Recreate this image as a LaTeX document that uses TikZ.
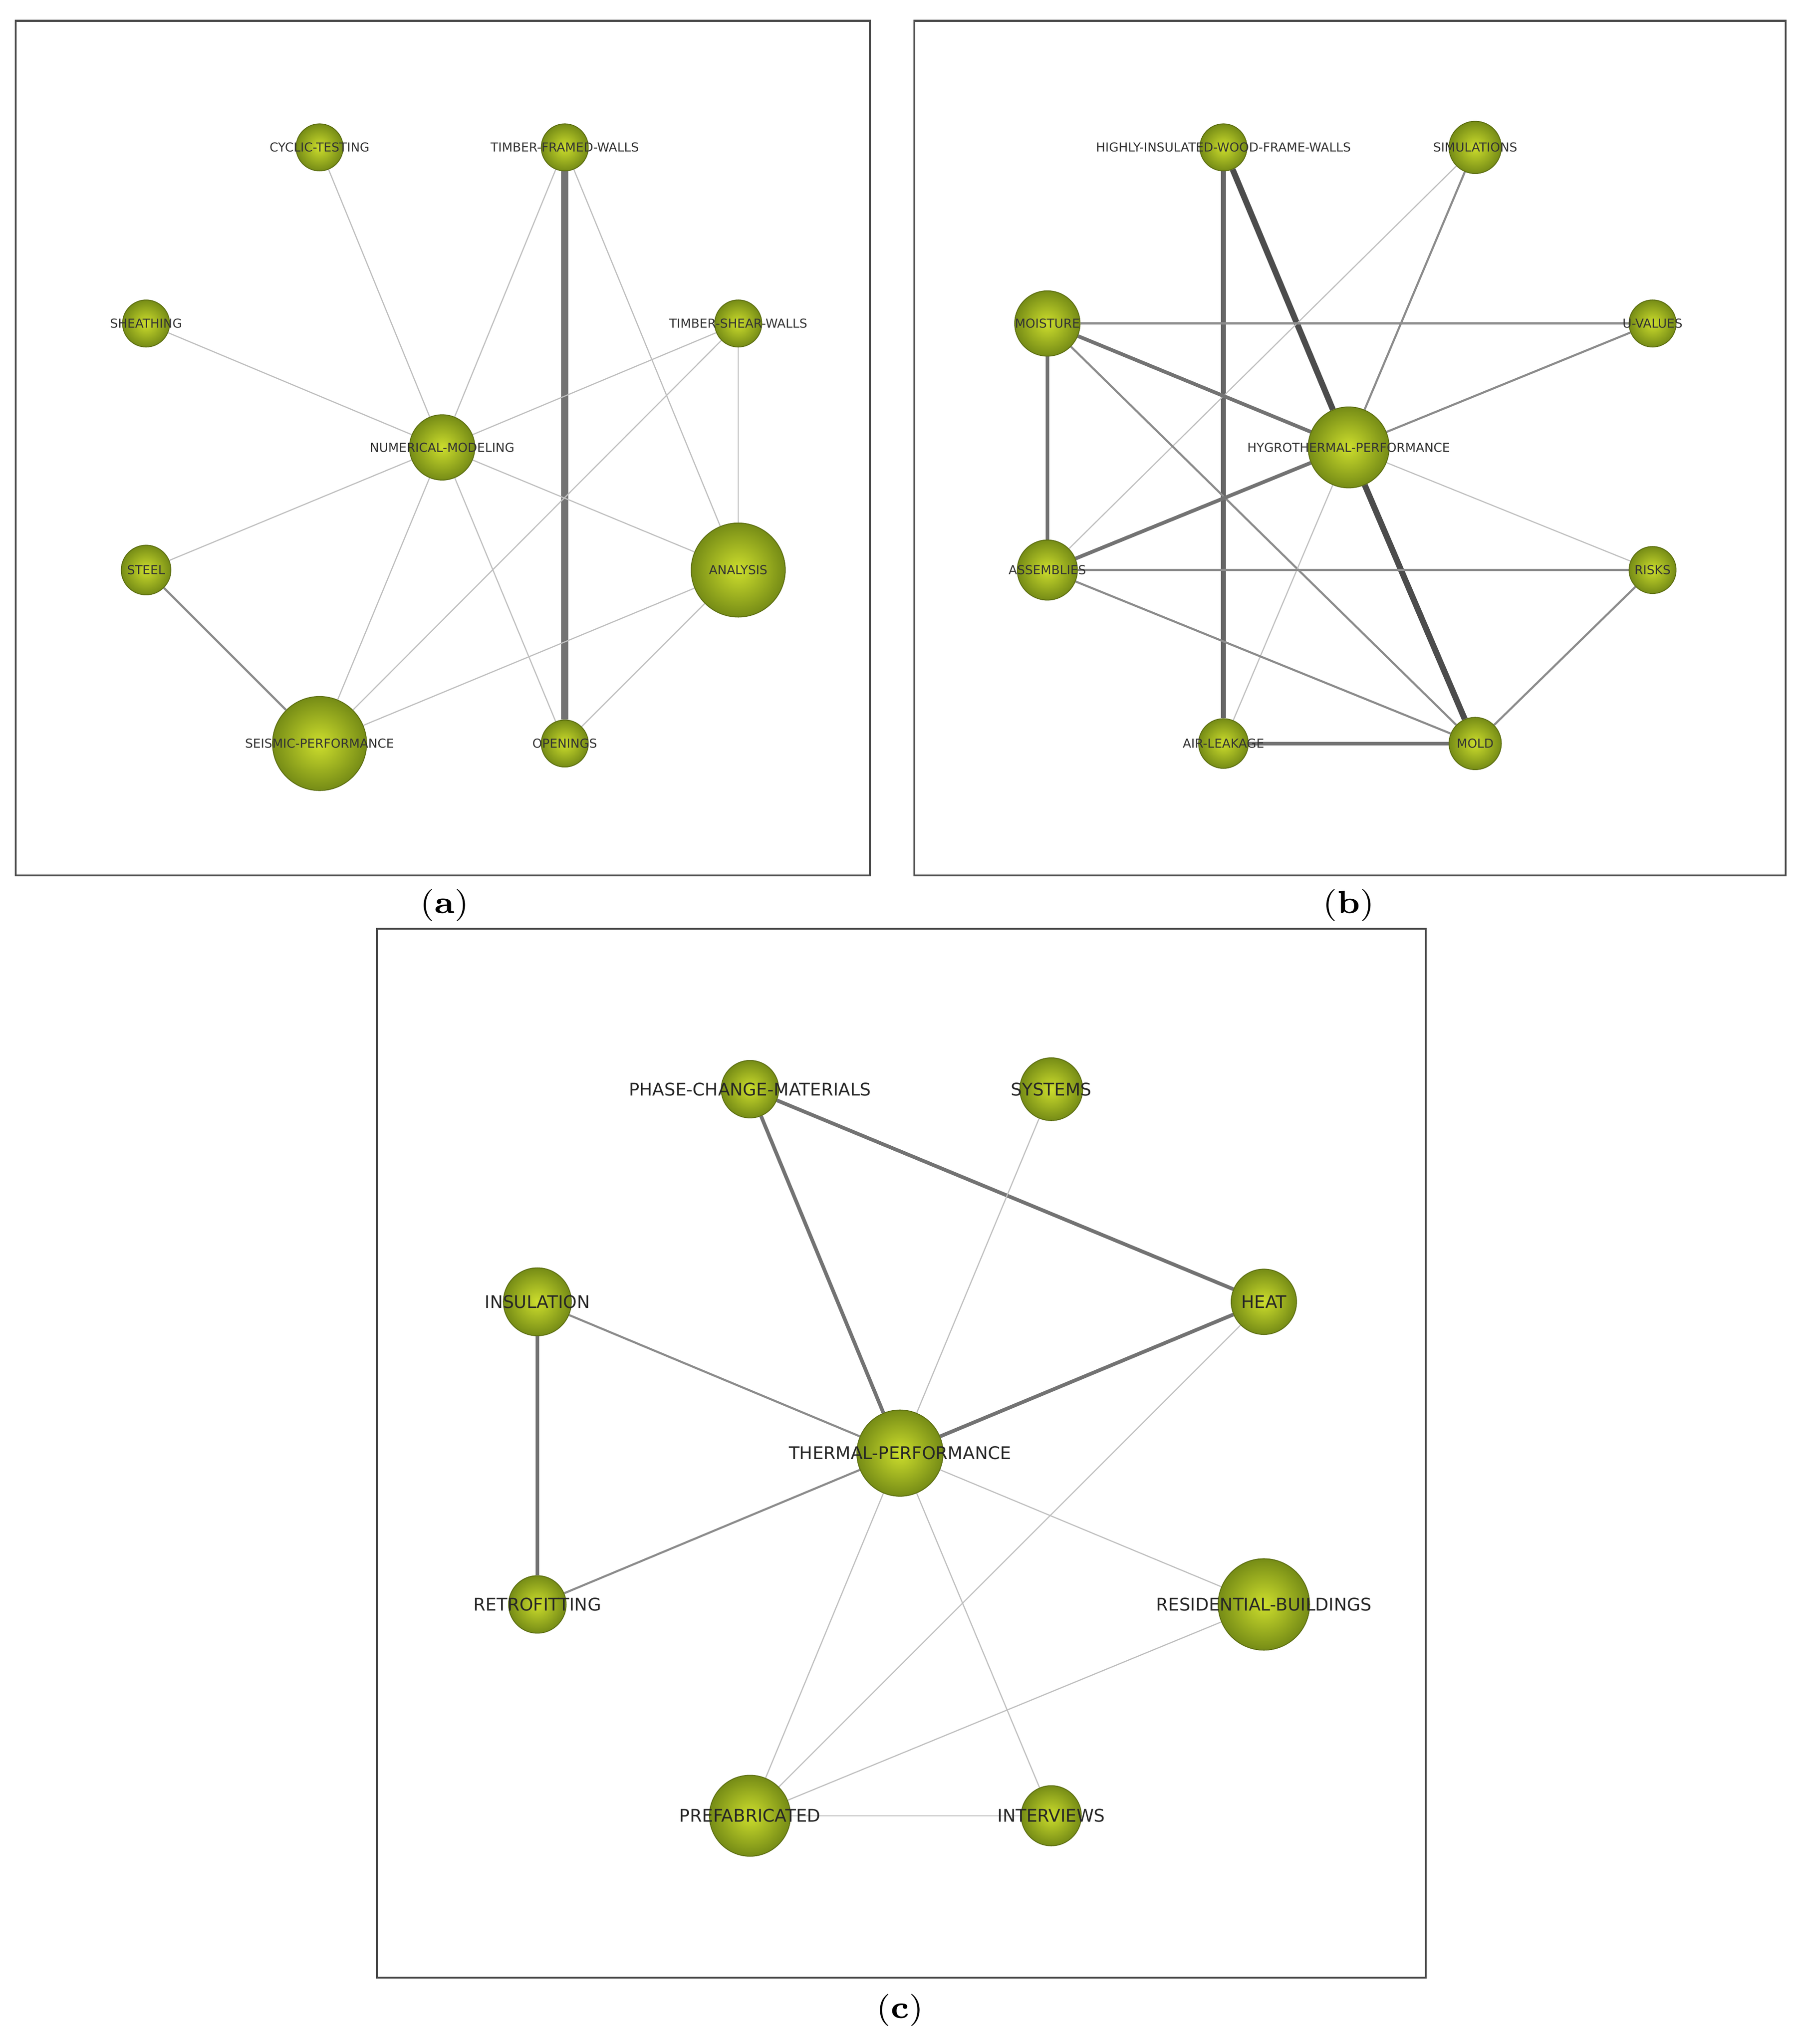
\documentclass[tikz,border=0pt]{standalone}
\usepackage{fontspec}
\newfontfamily\lblfont{DejaVu Sans}
\usetikzlibrary{backgrounds}
\definecolor{bubin}{RGB}{205,222,45}
\definecolor{bubout}{RGB}{118,140,22}
\begin{document}
\begin{tikzpicture}[x=0.01cm, y=-0.01cm]
    \tikzset{
        bub/.style={circle, draw=bubout!80!black, line width=0.2pt, inner sep=0pt,
                minimum size=#1*0.1mm, inner color=bubin, outer color=bubout},
        lbl/.style={font=\lblfont\fontsize{2.7}{3}\selectfont, text=black!80},
        lblc/.style={font=\lblfont\fontsize{3.8}{4.5}\selectfont, text=black!85},
        lite/.style={draw=black!25, line width=0.25pt},
        mid/.style={draw=black!45, line width=0.45pt},
        heavy/.style={draw=black!55, line width=0.8pt},
        frame/.style={draw=black!70, line width=0.4pt},
        captxt/.style={font=\fontsize{7}{8}\selectfont}
    }
    \useasboundingbox (0,0) rectangle (1380,1567);

    % panel (a)
    \draw[frame] (12,16) rectangle (667,671);
    \node[bub=36] (cyc) at (245,113) {};
    \node[bub=36] (tfw) at (433,113) {};
    \node[bub=36] (sht) at (112,248) {};
    \node[bub=36] (tsw) at (566,248) {};
    \node[bub=50] (num) at (339,343) {};
    \node[bub=38] (stl) at (112,437) {};
    \node[bub=72] (ana) at (566,437) {};
    \node[bub=72] (sei) at (245,570) {};
    \node[bub=36] (opn) at (433,570) {};
    \node[lbl] at (cyc) {CYCLIC-TESTING};
    \node[lbl] at (tfw) {TIMBER-FRAMED-WALLS};
    \node[lbl] at (sht) {SHEATHING};
    \node[lbl] at (tsw) {TIMBER-SHEAR-WALLS};
    \node[lbl] at (num) {NUMERICAL-MODELING};
    \node[lbl] at (stl) {STEEL};
    \node[lbl] at (ana) {ANALYSIS};
    \node[lbl] at (sei) {SEISMIC-PERFORMANCE};
    \node[lbl] at (opn) {OPENINGS};

    % panel (b)
    \draw[frame] (701,16) rectangle (1369,671);
    \node[bub=36] (hiw) at (938,113) {};
    \node[bub=40] (sim) at (1131,113) {};
    \node[bub=50] (moi) at (803,248) {};
    \node[bub=36] (uva) at (1267,248) {};
    \node[bub=62] (hyg) at (1034,343) {};
    \node[bub=46] (ass) at (803,437) {};
    \node[bub=36] (rsk) at (1267,437) {};
    \node[bub=38] (air) at (938,570) {};
    \node[bub=40] (mld) at (1131,570) {};
    \node[lbl] at (hiw) {HIGHLY-INSULATED-WOOD-FRAME-WALLS};
    \node[lbl] at (sim) {SIMULATIONS};
    \node[lbl] at (moi) {MOISTURE};
    \node[lbl] at (uva) {U-VALUES};
    \node[lbl] at (hyg) {HYGROTHERMAL-PERFORMANCE};
    \node[lbl] at (ass) {ASSEMBLIES};
    \node[lbl] at (rsk) {RISKS};
    \node[lbl] at (air) {AIR-LEAKAGE};
    \node[lbl] at (mld) {MOLD};

    % panel (c)
    \draw[frame] (289,712) rectangle (1093,1516);
    \node[bub=44] (pcm) at (575,835) {};
    \node[bub=48] (sys) at (806,835) {};
    \node[bub=52] (ins) at (412,998) {};
    \node[bub=50] (hea) at (969,998) {};
    \node[bub=66] (thp) at (690,1114) {};
    \node[bub=44] (ret) at (412,1230) {};
    \node[bub=70] (res) at (969,1230) {};
    \node[bub=62] (pre) at (575,1392) {};
    \node[bub=46] (itv) at (806,1392) {};
    \node[lblc] at (pcm) {PHASE-CHANGE-MATERIALS};
    \node[lblc] at (sys) {SYSTEMS};
    \node[lblc] at (ins) {INSULATION};
    \node[lblc] at (hea) {HEAT};
    \node[lblc] at (thp) {THERMAL-PERFORMANCE};
    \node[lblc] at (ret) {RETROFITTING};
    \node[lblc] at (res) {RESIDENTIAL-BUILDINGS};
    \node[lblc] at (pre) {PREFABRICATED};
    \node[lblc] at (itv) {INTERVIEWS};

    % connectors
    \begin{pgfonlayer}{background}
        \draw[lite] (cyc) -- (num);
        \draw[draw=black!55, line width=1.6pt] (tfw) -- (opn);
        \draw[lite] (tfw) -- (num);
        \draw[lite] (tfw) -- (ana);
        \draw[lite] (sht) -- (num);
        \draw[lite] (tsw) -- (num);
        \draw[lite] (tsw) -- (ana);
        \draw[lite] (tsw) -- (sei);
        \draw[lite] (num) -- (stl);
        \draw[lite] (num) -- (ana);
        \draw[lite] (num) -- (sei);
        \draw[lite] (num) -- (opn);
        \draw[mid] (stl) -- (sei);
        \draw[lite] (ana) -- (sei);
        \draw[lite] (ana) -- (opn);

        \draw[draw=black!60, line width=1.1pt] (hiw) -- (air);
        \draw[draw=black!70, line width=1.3pt] (hiw) -- (hyg);
        \draw[draw=black!70, line width=1.3pt] (hyg) -- (mld);
        \draw[mid] (sim) -- (hyg);
        \draw[lite] (sim) -- (ass);
        \draw[mid] (moi) -- (uva);
        \draw[heavy] (moi) -- (hyg);
        \draw[heavy] (moi) -- (ass);
        \draw[mid] (moi) -- (mld);
        \draw[mid] (uva) -- (hyg);
        \draw[heavy] (hyg) -- (ass);
        \draw[lite] (hyg) -- (rsk);
        \draw[lite] (hyg) -- (air);
        \draw[mid] (ass) -- (rsk);
        \draw[mid] (ass) -- (mld);
        \draw[mid] (rsk) -- (mld);
        \draw[heavy] (air) -- (mld);

        \draw[heavy] (pcm) -- (thp);
        \draw[heavy] (pcm) -- (hea);
        \draw[lite] (sys) -- (thp);
        \draw[mid] (ins) -- (thp);
        \draw[heavy] (ins) -- (ret);
        \draw[heavy] (hea) -- (thp);
        \draw[lite] (hea) -- (pre);
        \draw[mid] (thp) -- (ret);
        \draw[lite] (thp) -- (res);
        \draw[lite] (thp) -- (pre);
        \draw[lite] (thp) -- (itv);
        \draw[lite] (res) -- (pre);
        \draw[lite] (pre) -- (itv);
    \end{pgfonlayer}

    % captions
    \node[captxt] at (341,694) {(\textbf{a})};
    \node[captxt] at (1034,694) {(\textbf{b})};
    \node[captxt] at (690,1541) {(\textbf{c})};
\end{tikzpicture}
\end{document}
